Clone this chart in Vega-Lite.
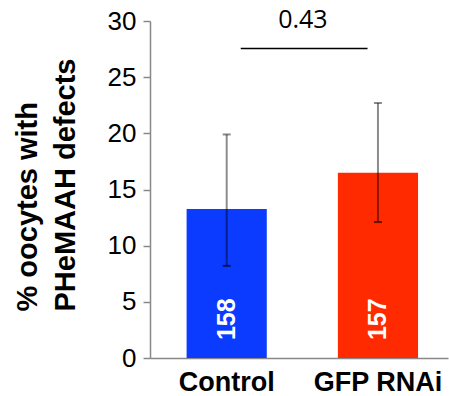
{
  "$schema": "https://vega.github.io/schema/vega-lite/v6.json",
  "width": 298,
  "height": 337,
  "autosize": {"type": "none"},
  "padding": {"left": 150, "top": 21, "right": 1, "bottom": 38},
  "background": "white",
  "config": {
    "view": {"stroke": null},
    "font": "Liberation Sans",
    "axisY": {"labelFontSize": 26, "labelFont": "Liberation Sans", "labelColor": "black"},
    "axisX": {"labelFontSize": 27, "labelFont": "Liberation Sans", "labelFontWeight": "bold", "labelColor": "black"}
  },
  "datasets": {
    "bars": [
      {"group": "Control", "value": 13.27, "lo": 8.2, "hi": 19.9, "n": "158"},
      {"group": "GFP RNAi", "value": 16.5, "lo": 12.1, "hi": 22.7, "n": "157"}
    ],
    "sig": [
      {"g1": "Control", "g2": "GFP RNAi", "label": "0.43"}
    ]
  },
  "encoding": {
    "x": {
      "field": "group",
      "type": "nominal",
      "sort": ["Control", "GFP RNAi"],
      "scale": {"paddingInner": 0.47, "paddingOuter": 0.22, "align": 0.55},
      "axis": {
        "title": null,
        "labelAngle": 0,
        "labelFont": "Liberation Sans",
        "labelFontWeight": "bold",
        "labelFontSize": 27,
        "labelColor": "black",
        "labelPadding": 11,
        "ticks": false,
        "domainColor": "#888888",
        "domainWidth": 1.5
      }
    }
  },
  "layer": [
    {
      "data": {"name": "bars"},
      "mark": {"type": "bar"},
      "encoding": {
        "y": {
          "field": "value",
          "type": "quantitative",
          "scale": {"domain": [0, 30], "nice": false},
          "axis": {
            "values": [0, 5, 10, 15, 20, 25, 30],
            "grid": false,
            "title": ["% oocytes with", "PHeMAAH defects"],
            "titleFont": "Liberation Sans",
            "titleFontWeight": "bold",
            "titleFontSize": 29,
            "titleColor": "black",
            "titleLineHeight": 38,
            "titlePadding": 27,
            "titleAlign": "left",
            "titleY": 290,
            "labelFont": "Liberation Sans",
            "labelFontSize": 26,
            "labelColor": "black",
            "labelPadding": 7,
            "tickSize": 7,
            "tickColor": "#888888",
            "tickWidth": 1.5,
            "domainColor": "#888888",
            "domainWidth": 1.5
          }
        },
        "color": {
          "field": "group",
          "type": "nominal",
          "scale": {"domain": ["Control", "GFP RNAi"], "range": ["#0A3BFF", "#FF2A00"]},
          "legend": null
        }
      }
    },
    {
      "data": {"name": "bars"},
      "mark": {"type": "rule", "color": "black", "opacity": 0.45, "strokeWidth": 2},
      "encoding": {
        "y": {"field": "lo", "type": "quantitative"},
        "y2": {"field": "hi"}
      }
    },
    {
      "data": {"name": "bars"},
      "mark": {"type": "tick", "color": "black", "opacity": 0.6, "thickness": 2, "size": 8, "orient": "horizontal"},
      "encoding": {
        "y": {"field": "lo", "type": "quantitative"}
      }
    },
    {
      "data": {"name": "bars"},
      "mark": {"type": "tick", "color": "black", "opacity": 0.45, "thickness": 2, "size": 8, "orient": "horizontal"},
      "encoding": {
        "y": {"field": "hi", "type": "quantitative"}
      }
    },
    {
      "data": {"name": "bars"},
      "mark": {"type": "text", "angle": 270, "color": "white", "font": "Liberation Sans", "fontWeight": "bold", "fontSize": 25, "align": "center", "baseline": "middle"},
      "encoding": {
        "y": {"datum": 3.45, "type": "quantitative"},
        "text": {"field": "n"}
      }
    },
    {
      "data": {"name": "sig"},
      "mark": {"type": "rule", "color": "black", "strokeWidth": 1.5},
      "encoding": {
        "x": {"field": "g1", "type": "nominal", "bandPosition": 0.675},
        "x2": {"field": "g2", "bandPosition": 0.37},
        "y": {"datum": 27.55, "type": "quantitative"}
      }
    },
    {
      "data": {"name": "sig"},
      "mark": {"type": "text", "color": "black", "font": "Open Sans", "fontSize": 25, "align": "center", "baseline": "alphabetic"},
      "encoding": {
        "x": {"field": "g1", "type": "nominal", "bandPosition": 1.45},
        "y": {"datum": 29.4, "type": "quantitative"},
        "text": {"field": "label"}
      }
    }
  ]
}
